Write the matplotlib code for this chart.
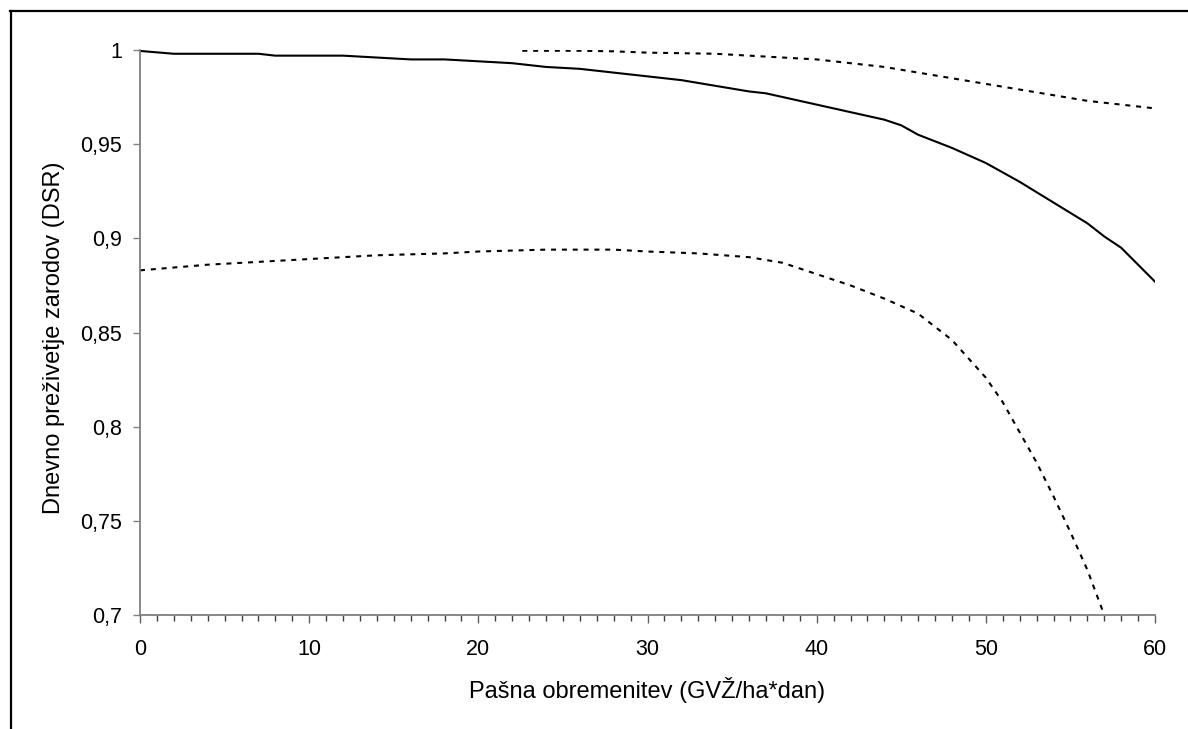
from matplotlib import pyplot as plt
from matplotlib.lines import Line2D

plt.rcParams['font.family'] = ['Liberation Sans', 'DejaVu Sans']

# polna krivulja
x_dsr = [0, 2, 4, 6, 7, 8, 10, 12, 14, 16, 18, 20, 22, 24, 26, 28, 30, 32, 34, 36,
         37, 38, 40, 42, 44, 45, 46, 48, 50, 52, 54, 56, 57, 58, 60]
y_dsr = [0.9995, 0.998, 0.998, 0.998, 0.998, 0.997, 0.997, 0.997, 0.996, 0.995,
         0.995, 0.994, 0.993, 0.991, 0.990, 0.988, 0.986, 0.984, 0.981, 0.978,
         0.977, 0.975, 0.971, 0.967, 0.963, 0.960, 0.955, 0.948, 0.940, 0.930,
         0.919, 0.908, 0.901, 0.895, 0.877]

# zgornja meja intervala
x_zg = [22.6, 26, 28, 30, 34, 36, 38, 40, 42, 44, 46, 48, 50, 52, 54, 56, 58, 60]
y_zg = [0.9996, 0.9996, 0.9993, 0.9986, 0.998, 0.997, 0.996, 0.995, 0.993, 0.991,
        0.988, 0.985, 0.982, 0.979, 0.976, 0.973, 0.971, 0.969]

# spodnja meja intervala
x_sp = [0, 4, 8, 10, 14, 18, 20, 24, 28, 30, 33, 36, 38, 40, 42, 44, 46, 48, 50,
        51, 52, 53, 54, 55, 56, 57]
y_sp = [0.883, 0.886, 0.888, 0.889, 0.891, 0.892, 0.893, 0.894, 0.894, 0.893,
        0.892, 0.890, 0.887, 0.881, 0.875, 0.868, 0.860, 0.846, 0.826, 0.813,
        0.797, 0.781, 0.763, 0.744, 0.724, 0.700]

y_ticks = [0.7, 0.75, 0.8, 0.85, 0.9, 0.95, 1.0]
y_labels = ["0,7", "0,75", "0,8", "0,85", "0,9", "0,95", "1"]
x_ticks = [0, 10, 20, 30, 40, 50, 60]

fig = plt.figure(figsize=(11.88, 7.29), dpi=100)
ax = fig.add_axes([140/1188, 114/729, 1015/1188, 565/729])

ax.plot(x_dsr, y_dsr, color="black", linewidth=1.5, solid_joinstyle="round")
ax.plot(x_zg, y_zg, color="black", linewidth=1.5, linestyle=(0, (2.4, 2.8)))
ax.plot(x_sp, y_sp, color="black", linewidth=1.5, linestyle=(0, (2.4, 2.8)))

ax.set_xlim(0, 60)
ax.set_ylim(0.7, 1.0)
ax.set_yticks(y_ticks)
ax.set_yticklabels(y_labels)
ax.set_xticks(x_ticks)
ax.set_xticks(range(0, 61), minor=True)

for s in ["top", "right"]:
    ax.spines[s].set_visible(False)
for s in ["left", "bottom"]:
    ax.spines[s].set_color("#808080")
    ax.spines[s].set_linewidth(1.3)

ax.tick_params(axis="y", direction="out", length=5, width=1, color="#808080",
               labelsize=15.5, pad=8)
ax.tick_params(axis="x", which="major", direction="out", length=6, width=1,
               color="#606060", labelsize=15.5, pad=11)
ax.tick_params(axis="x", which="minor", direction="out", length=4.3, width=1,
               color="#404040")

ax.set_xlabel("Pašna obremenitev (GVŽ/ha*dan)", fontsize=17)
ax.set_ylabel("Dnevno preživetje zarodov (DSR)", fontsize=17)
ax.xaxis.set_label_coords(0.5, -0.110)
ax.yaxis.set_label_coords(-0.074, 0.49)

# okvir okoli slike
fig.add_artist(Line2D([10.5/1188, 10.5/1188], [0, 718/729], color="black",
                      linewidth=1.6, transform=fig.transFigure))
fig.add_artist(Line2D([10/1188, 1.0], [718/729, 718/729], color="black",
                      linewidth=1.6, transform=fig.transFigure))

plt.savefig("out.png", dpi=100)
